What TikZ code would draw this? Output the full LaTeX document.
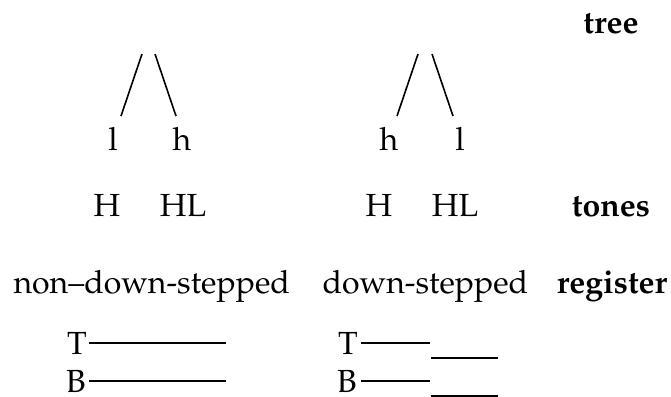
\documentclass[tikz,border=0pt]{standalone}
\usepackage[T1]{fontenc}
\usepackage{mathpazo}
\begin{document}
\begin{tikzpicture}[x=0.375pt,y=-0.375pt,
  lbl/.style={inner sep=0pt,anchor=base,font=\fontsize{12}{14}\selectfont},
  head/.style={lbl,font=\fontsize{12}{14}\selectfont\bfseries},
  edge/.style={line width=0.6pt},
  lvl/.style={line width=0.75pt}]
\useasboundingbox (0,0) rectangle (671,396);
% headers
\node[head] (tree) at (611,33) {tree};
\node[head] (tones) at (611,216) {tones};
\node[head] (register) at (612,293) {register};
% left tree
\coordinate (lt1) at (142,54); \coordinate (lt2) at (155,54);
\coordinate (lb1) at (121,116); \coordinate (lb2) at (176,116);
\draw[edge] (lt1) -- (lb1);
\draw[edge] (lt2) -- (lb2);
\node[lbl] (ll) at (113,150) {l};
\node[lbl] (lh) at (182,150) {h};
% right tree
\coordinate (rt1) at (418,54); \coordinate (rt2) at (432,54);
\coordinate (rb1) at (397,116); \coordinate (rb2) at (453,116);
\draw[edge] (rt1) -- (rb1);
\draw[edge] (rt2) -- (rb2);
\node[lbl] (rh) at (389,150) {h};
\node[lbl] (rl) at (460,150) {l};
% tones
\node[lbl] (lH) at (107,216) {H};
\node[lbl] (lHL) at (183,216) {HL};
\node[lbl] (rH) at (379,216) {H};
\node[lbl] (rHL) at (455,216) {HL};
% register
\node[lbl,anchor=base west] (nds) at (13,293) {non--down-stepped};
\node[lbl,anchor=base west] (ds) at (322,293) {down-stepped};
% left levels
\node[lbl] (lT) at (77,354) {T};
\node[lbl] (lB) at (76,392) {B};
\coordinate (lTa) at (89,343); \coordinate (lTb) at (226,343);
\coordinate (lBa) at (89,381); \coordinate (lBb) at (226,381);
\draw[lvl] (lTa) -- (lTb);
\draw[lvl] (lBa) -- (lBb);
% right levels
\node[lbl] (rT) at (348,354) {T};
\node[lbl] (rB) at (347,392) {B};
\coordinate (rTa) at (361,343); \coordinate (rTb) at (430,343);
\coordinate (rTc) at (431,358); \coordinate (rTd) at (498,358);
\coordinate (rBa) at (361,381); \coordinate (rBb) at (430,381);
\coordinate (rBc) at (431,395.5); \coordinate (rBd) at (498,395.5);
\draw[lvl] (rTa) -- (rTb);
\draw[lvl] (rTc) -- (rTd);
\draw[lvl] (rBa) -- (rBb);
\draw[lvl] (rBc) -- (rBd);
\end{tikzpicture}
\end{document}
